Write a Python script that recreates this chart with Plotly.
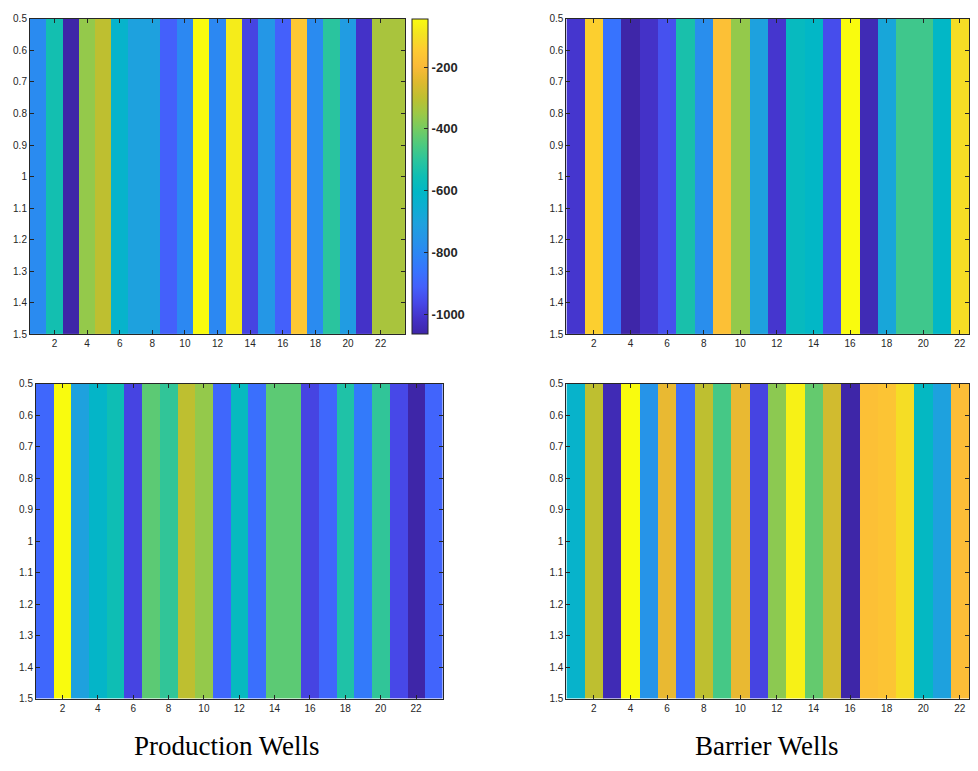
import plotly.graph_objects as go

# ---- data (colour scale of top-left colorbar) ----
prod_top = [-789, -544, -1064, -360, -299, -625, -707, -707, -911, -799, -44, -799,
            -75, -972, -748, -911, -156, -789, -503, -727, -1013, -330, -330]
barrier_top = [-1003, -136, -860, -1064, -1013, -942, -534, -778, -177, -360, -707,
               -1003, -585, -605, -952, -44, -1044, -687, -472, -472, -605, -105]
prod_bottom = [-891, -44, -707, -615, -554, -972, -432, -493, -299, -360, -891, -585,
               -870, -432, -432, -972, -891, -523, -840, -493, -962, -1064, -901]
barrier_bottom = [-625, -299, -1044, -44, -758, -228, -880, -299, -462, -228, -972,
                  -370, -64, -421, -268, -1064, -177, -166, -105, -595, -707, -187]

y_tick_vals = [0.5, 0.6, 0.7, 0.8, 0.9, 1.0, 1.1, 1.2, 1.3, 1.4, 1.5]
y_tick_text = ["0.5", "0.6", "0.7", "0.8", "0.9", "1", "1.1", "1.2", "1.3", "1.4", "1.5"]
x_tick_vals = [2, 4, 6, 8, 10, 12, 14, 16, 18, 20, 22]
cbar_tick_vals = [-1000, -800, -600, -400, -200]
cbar_tick_text = ["-1000", "-800", "-600", "-400", "-200"]
captions = ["Production Wells", "Barrier Wells"]
z_min, z_max = -1064, -44

# parula-like colour scale
parula = [
    [0.00, "rgb(62,38,168)"], [0.05, "rgb(68,50,200)"], [0.10, "rgb(71,72,232)"],
    [0.15, "rgb(68,96,251)"], [0.20, "rgb(55,115,254)"], [0.25, "rgb(45,133,245)"],
    [0.30, "rgb(38,148,232)"], [0.35, "rgb(30,161,222)"], [0.40, "rgb(14,173,210)"],
    [0.45, "rgb(2,183,198)"], [0.50, "rgb(14,190,180)"], [0.55, "rgb(42,196,158)"],
    [0.60, "rgb(76,201,128)"], [0.65, "rgb(116,203,98)"], [0.70, "rgb(156,200,70)"],
    [0.75, "rgb(190,191,48)"], [0.80, "rgb(222,185,46)"], [0.85, "rgb(250,186,56)"],
    [0.90, "rgb(254,202,50)"], [0.95, "rgb(243,226,34)"], [1.00, "rgb(249,251,14)"],
]

# page body has an 8px margin, so the figure is sized to fit inside the window
OFF = 8
W, H = 978 - 2 * OFF, 771 - 2 * OFF
panels = [
    (prod_top, (30, 405.5), (14, 334)),
    (barrier_top, (567, 970), (14, 334)),
    (prod_bottom, (36, 443), (384, 704)),
    (barrier_bottom, (567, 970), (384, 704)),
]

fig = go.Figure()
axis_color = "#262626"
tick_font = dict(family="Liberation Sans, Arial, sans-serif", size=10, color=axis_color)

for i, (vals, (x0, x1), (y0, y1)) in enumerate(panels, start=1):
    n = len(vals)
    xs = list(range(1, n + 1))
    fig.add_trace(go.Heatmap(
        z=[vals], x=xs, y=[1], coloraxis="coloraxis",
        xaxis=f"x{i}", yaxis=f"y{i}", hoverinfo="skip",
    ))
    sfx = "" if i == 1 else str(i)
    fig.layout[f"xaxis{sfx}"] = dict(
        domain=[(x0 - OFF) / W, min((x1 - OFF) / W, 1.0)], anchor=f"y{i}",
        range=[0.5, n + 0.5],
        tickvals=x_tick_vals, ticks="inside", ticklen=4, tickcolor=axis_color,
        showline=True, linecolor=axis_color, linewidth=1, mirror="ticks",
        showgrid=False, zeroline=False, tickfont=tick_font,
    )
    fig.layout[f"yaxis{sfx}"] = dict(
        domain=[1 - (y1 - OFF) / H, 1 - (y0 - OFF) / H], anchor=f"x{i}", range=[1.5, 0.5],
        tickvals=y_tick_vals, ticktext=y_tick_text, ticks="inside", ticklen=4,
        tickcolor=axis_color, showline=True, linecolor=axis_color, linewidth=1,
        mirror="ticks", showgrid=False, zeroline=False, tickfont=tick_font,
    )

fig.update_layout(
    width=W, height=H,
    margin=dict(l=0, r=0, t=0, b=0),
    paper_bgcolor="white", plot_bgcolor="white",
    coloraxis=dict(
        colorscale=parula, cmin=z_min, cmax=z_max,
        colorbar=dict(
            x=(412 - OFF) / W, xanchor="left", xpad=0, ypad=0,
            y=1 - (14 - OFF) / H, yanchor="top", len=320 / H, lenmode="fraction",
            thickness=16, thicknessmode="pixels",
            outlinewidth=1, outlinecolor=axis_color,
            tickvals=cbar_tick_vals, ticktext=cbar_tick_text,
            ticks="inside", ticklen=4, tickcolor=axis_color,
            tickfont=dict(family="Liberation Sans, Arial, sans-serif", size=13,
                          color=axis_color, weight="bold"),
        ),
    ),
    showlegend=False,
)

for text, cx in zip(captions, [227, 768]):
    fig.add_annotation(
        text=text, x=(cx - OFF) / W, y=1 - (752 - OFF) / H, xref="paper", yref="paper",
        xanchor="center", yanchor="middle", showarrow=False,
        font=dict(family="Liberation Serif, Times New Roman, serif", size=27, color="black"),
    )

fig.write_html("out.html")
